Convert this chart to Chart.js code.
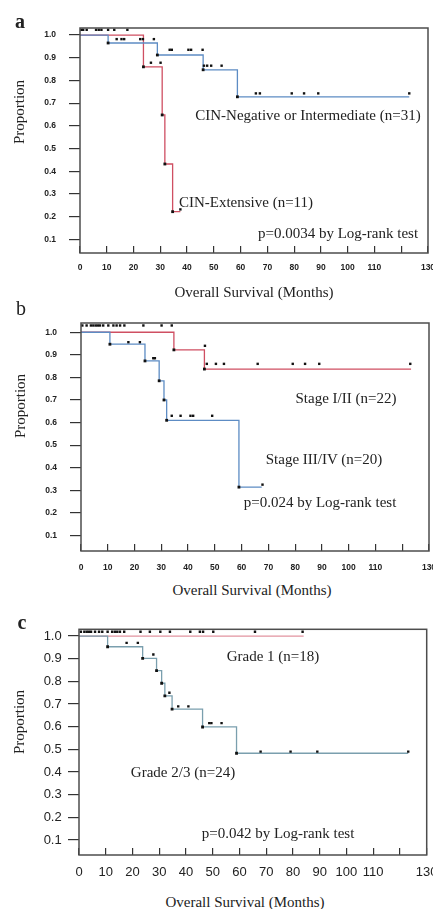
<!DOCTYPE html>
<html>
<head>
<meta charset="utf-8">
<script src="https://cdn.jsdelivr.net/npm/chart.js@4.4.0/dist/chart.umd.min.js"></script>
<style>
  body { margin: 0; background: #fff; width: 433px; height: 909px; position: relative; overflow: hidden;
         font-family: "Liberation Serif", "Times New Roman", serif; color: #222; }
  .panel { position: absolute; left: 0; width: 433px; }
  .lbl { position: absolute; white-space: nowrap; transform: translate(-50%, -50%); font-size: 15px; line-height: 1; }
  .rot { transform: translate(-50%, -50%) rotate(-90deg); }
  .letter { font-size: 20px; }
</style>
</head>
<body>

<div class="panel" style="top:0;height:283px"><canvas id="chartA"></canvas></div>
<div class="panel" style="top:290px;height:291px"><canvas id="chartB"></canvas></div>
<div class="panel" style="top:600px;height:285px"><canvas id="chartC"></canvas></div>

<!-- panel a -->
<div class="lbl letter" style="left:20px;top:21px;font-weight:bold">a</div>
<div class="lbl rot" style="left:19px;top:112px">Proportion</div>
<div class="lbl" style="left:308px;top:115px">CIN-Negative or Intermediate (n=31)</div>
<div class="lbl" style="left:246px;top:202px">CIN-Extensive (n=11)</div>
<div class="lbl" style="left:338px;top:233px">p=0.0034 by Log-rank test</div>
<div class="lbl" style="left:254px;top:292px">Overall Survival (Months)</div>

<!-- panel b -->
<div class="lbl letter" style="left:21px;top:308px">b</div>
<div class="lbl rot" style="left:20px;top:406px">Proportion</div>
<div class="lbl" style="left:346px;top:398px">Stage I/II (n=22)</div>
<div class="lbl" style="left:324px;top:459px">Stage III/IV (n=20)</div>
<div class="lbl" style="left:320px;top:502px">p=0.024 by Log-rank test</div>
<div class="lbl" style="left:252px;top:590px">Overall Survival (Months)</div>

<!-- panel c -->
<div class="lbl letter" style="left:22px;top:622px;font-weight:bold">c</div>
<div class="lbl rot" style="left:19px;top:722px">Proportion</div>
<div class="lbl" style="left:273px;top:656px">Grade 1 (n=18)</div>
<div class="lbl" style="left:183px;top:772px">Grade 2/3 (n=24)</div>
<div class="lbl" style="left:278px;top:833px">p=0.042 by Log-rank test</div>
<div class="lbl" style="left:245px;top:902px">Overall Survival (Months)</div>

<script>
// axis ticks
const xTicks = [0, 10, 20, 30, 40, 50, 60, 70, 80, 90, 100, 110, 120, 130];
const xTickLabels = ['0', '10', '20', '30', '40', '50', '60', '70', '80', '90', '100', '110', '', '130'];
const yTicks = [0.1, 0.2, 0.3, 0.4, 0.5, 0.6, 0.7, 0.8, 0.9, 1.0];

// a: CIN status
const aNegT = [0, 10.5, 28.9, 46.0, 58.8, 123];
const aNegS = [1, 0.965, 0.912, 0.847, 0.728, 0.728];
const aExtT = [0, 23.7, 30.7, 31.7, 34.6, 37.5];
const aExtS = [1, 0.86, 0.648, 0.432, 0.222, 0.222];
const aCensorT = [0.5, 1.2, 2.5, 6, 7, 8, 10.5, 12.8, 17.7,
                  13.7, 15.5, 16.5, 22.5, 23.5, 27.6,
                  33.5, 34.3, 40.5, 41.5, 45.8,
                  26.5, 30.1,
                  46.3, 47.5, 49, 52.9,
                  65.7, 67.2, 79.1, 83.7, 89, 123,
                  37.5];
const aCensorY = [1.023, 1.023, 1.023, 1.023, 1.023, 1.023, 1.023, 1.023, 1.023,
                  0.982, 0.982, 0.982, 0.982, 0.982, 0.982,
                  0.935, 0.935, 0.935, 0.935, 0.935,
                  0.878, 0.878,
                  0.865, 0.865, 0.865, 0.865,
                  0.743, 0.743, 0.743, 0.743, 0.743, 0.743,
                  0.232];

// b: stage
const bEarlyT = [0, 34.7, 46.1, 123.3];
const bEarlyS = [1, 0.922, 0.837, 0.837];
const bLateT = [0, 10.8, 23.9, 29.2, 31, 32, 59, 67.5];
const bLateS = [1, 0.947, 0.873, 0.785, 0.70, 0.61, 0.314, 0.314];
const bCensorT = [0.5, 2.1, 3.7, 4.6, 5.5, 6.3, 7.1, 8.3, 10.2, 12.1, 13.3, 14.6, 16.2, 23.3, 30.1, 33.9,
                  17.7, 22,
                  27, 27.6,
                  33.9, 37.2, 40.9, 41.9, 49,
                  67.8,
                  46.3,
                  47, 50.4, 53.4, 66, 79.1, 83.7, 89, 123];
const bCensorY = [1.03, 1.03, 1.03, 1.03, 1.03, 1.03, 1.03, 1.03, 1.03, 1.03, 1.03, 1.03, 1.03, 1.03, 1.03, 1.03,
                  0.956, 0.956,
                  0.885, 0.885,
                  0.63, 0.63, 0.63, 0.63, 0.63,
                  0.325,
                  0.94,
                  0.86, 0.86, 0.86, 0.86, 0.86, 0.86, 0.86, 0.86];

// c: grade
const cG1T = [0, 84];
const cG1S = [1, 1];
const cG23T = [0, 10.7, 23.8, 29, 30.9, 32.1, 34.8, 46.2, 58.9, 123.1];
const cG23S = [1, 0.953, 0.902, 0.848, 0.792, 0.736, 0.678, 0.599, 0.483, 0.483];
const cCensorT = [0.7, 2, 2.9, 3.7, 4.5, 6, 7.5, 8.7, 10.7, 12.4, 13.4, 14.3, 15.3, 16.9,
                  23, 26.5, 30.4, 34, 41.6, 45.2, 46.4, 50.2, 65.8, 83.6,
                  17.8, 22,
                  27.8,
                  33.8,
                  37.1, 40.9,
                  48.7, 49.5, 53.3,
                  67.9, 79.1, 89.1, 123.1];
const cCensorY = [1.019, 1.019, 1.019, 1.019, 1.019, 1.019, 1.019, 1.019, 1.019, 1.019, 1.019, 1.019, 1.019, 1.019,
                  1.019, 1.019, 1.019, 1.019, 1.019, 1.019, 1.019, 1.019, 1.019, 1.019,
                  0.97, 0.97,
                  0.919,
                  0.75,
                  0.69, 0.69,
                  0.616, 0.616, 0.616,
                  0.49, 0.49, 0.49, 0.49];

const framePlugin = {
    id: 'frame',
    afterDatasetsDraw(chart) {
        const { ctx, chartArea: a } = chart;
        ctx.save();
        ctx.strokeStyle = '#4d4d4d';
        ctx.lineWidth = 1.5;
        ctx.strokeRect(a.left, a.top, a.right - a.left, a.bottom - a.top);
        ctx.restore();
    }
};

function pairs(xs, ys) {
    return xs.map((x, i) => ({ x: x, y: ys[i] }));
}

function curve(ts, ss, color) {
    const last = ts.length - 1;
    return {
        data: pairs(ts, ss),
        stepped: 'before',
        borderColor: color,
        borderWidth: 1.3,
        fill: false,
        pointStyle: 'rect',
        pointRadius: ctx => (ctx.dataIndex === 0 || ctx.dataIndex === last) ? 0 : 2,
        pointBackgroundColor: '#111',
        pointBorderWidth: 0
    };
}

function makePanel(id, o) {
    const tickFont = { family: '"Liberation Sans", Arial, sans-serif', size: o.fontSize, weight: o.fontWeight };
    const datasets = [{
        data: pairs(o.censorT, o.censorY),
        showLine: false,
        pointStyle: 'rect',
        pointRadius: 1.7,
        pointBackgroundColor: '#111',
        pointBorderWidth: 0
    }].concat(o.curves.map(c => curve(c.t, c.s, c.color)));

    return new Chart(document.getElementById(id), {
        type: 'line',
        data: { datasets: datasets },
        options: {
            responsive: true,
            maintainAspectRatio: false,
            animation: false,
            layout: { padding: { top: o.padTop, right: o.padRight, left: 0, bottom: 0 } },
            plugins: { legend: { display: false }, tooltip: { enabled: false } },
            scales: {
                x: {
                    type: 'linear',
                    min: 0,
                    max: 130,
                    afterBuildTicks: s => { s.ticks = xTicks.map(v => ({ value: v })); },
                    afterFit: s => { s.height = 30; s.paddingLeft = 0; s.paddingRight = 0; },
                    grid: { drawOnChartArea: false, tickLength: -7, color: '#333', lineWidth: 1.2 },
                    border: { display: false },
                    ticks: {
                        autoSkip: false,
                        maxRotation: 0,
                        padding: o.xPad,
                        color: '#222',
                        font: tickFont,
                        callback: (v, i) => xTickLabels[i]
                    }
                },
                y: {
                    type: 'linear',
                    min: o.yMin,
                    max: o.yMax,
                    afterBuildTicks: s => { s.ticks = yTicks.map(v => ({ value: v })); },
                    afterFit: s => { s.width = o.yWidth; s.paddingTop = 0; s.paddingBottom = 0; },
                    grid: { drawOnChartArea: false, tickLength: 11, color: '#333', lineWidth: 1.2 },
                    border: { display: false },
                    ticks: {
                        padding: o.yPad,
                        color: '#222',
                        font: tickFont,
                        callback: (v, i) => yTicks[i].toFixed(1)
                    }
                }
            }
        },
        plugins: [framePlugin]
    });
}

const blueAB = '#5d8cc4', redAB = '#cf4f62';
const blueC = '#7a9fae', redC = '#e2939f';

makePanel('chartA', {
    curves: [{ t: aNegT, s: aNegS, color: blueAB }, { t: aExtT, s: aExtS, color: redAB }],
    censorT: aCensorT, censorY: aCensorY,
    yMin: 0.040, yMax: 1.031, yWidth: 80, padTop: 28, padRight: 5,
    fontSize: 8.5, fontWeight: 'bold', xPad: 17, yPad: 13
});

makePanel('chartB', {
    curves: [{ t: bLateT, s: bLateS, color: blueAB }, { t: bEarlyT, s: bEarlyS, color: redAB }],
    censorT: bCensorT, censorY: bCensorY,
    yMin: 0.031, yMax: 1.041, yWidth: 81, padTop: 33, padRight: 4,
    fontSize: 8.5, fontWeight: 'bold', xPad: 18.5, yPad: 13
});

makePanel('chartC', {
    curves: [{ t: cG23T, s: cG23S, color: blueC }, { t: cG1T, s: cG1S, color: redC }],
    censorT: cCensorT, censorY: cCensorY,
    yMin: 0.034, yMax: 1.030, yWidth: 79, padTop: 29.3, padRight: 6.3,
    fontSize: 13, fontWeight: 'normal', xPad: 17, yPad: 6.3
});
</script>
</body>
</html>
